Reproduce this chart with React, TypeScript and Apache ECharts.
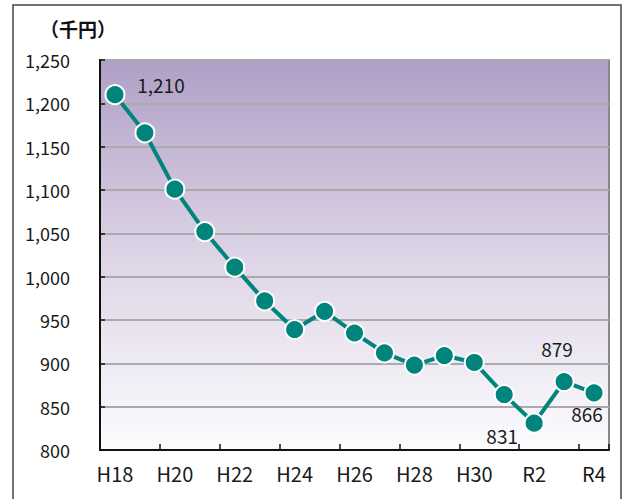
import React, { useEffect, useRef } from "react";
import * as echarts from "echarts";

const categories = ["H18","H19","H20","H21","H22","H23","H24","H25","H26","H27","H28","H29","H30","R1","R2","R3","R4"];
const values = [1210, 1166, 1101, 1052, 1011, 972, 939, 960, 935, 912, 898, 909, 901, 864, 831, 879, 866];
const labelledPoints: { index: number; text: string; offset: [number, number] }[] = [
  { index: 0, text: "1,210", offset: [46, -10] },
  { index: 14, text: "831", offset: [-32, 12] },
  { index: 15, text: "879", offset: [-7, -33] },
  { index: 16, text: "866", offset: [-7, 21] },
];
const unitTitle = "（千円）";

const FONT = "'Noto Sans CJK JP', 'Noto Sans', sans-serif";

export default function App() {
  const ref = useRef<HTMLDivElement>(null);
  useEffect(() => {
    document.body.style.margin = "0";
    if (!ref.current) return;
    const chart = echarts.init(ref.current, undefined, { renderer: "svg" });
    const data = values.map((v, i) => {
      const lp = labelledPoints.find((p) => p.index === i);
      if (!lp) return { value: v };
      return {
        value: v,
        label: {
          show: true,
          position: "inside",
          offset: lp.offset,
          formatter: lp.text,
          color: "#1a1a1a",
          fontSize: 19,
          fontFamily: FONT,
        },
      };
    });
    chart.setOption({
      animation: false,
      backgroundColor: "#ffffff",
      graphic: [
        {
          type: "rect",
          shape: { x: 13, y: 5, width: 608, height: 500 },
          style: { fill: "none", stroke: "#444", lineWidth: 1.5 },
          z: 0,
        },
        {
          type: "text",
          left: 40,
          top: 19,
          style: {
            text: unitTitle,
            fontSize: 19,
            fontWeight: "bold",
            fontFamily: FONT,
            fill: "#111",
          },
        },
      ],
      grid: {
        left: 100,
        right: 19,
        top: 60,
        bottom: 49,
        show: true,
        backgroundColor: new echarts.graphic.LinearGradient(0, 0, 0, 1, [
          { offset: 0, color: "#b09fc6" },
          { offset: 0.5, color: "#ddd4e6" },
          { offset: 1, color: "#fcfcfe" },
        ]),
        borderColor: "#888",
        borderWidth: 2,
      },
      xAxis: {
        type: "category",
        data: categories,
        boundaryGap: true,
        axisLine: { lineStyle: { color: "#111", width: 2 } },
        axisTick: { show: true, inside: true, length: 6, lineStyle: { color: "#111", width: 1.5 } },
        axisLabel: {
          interval: 1,
          color: "#1a1a1a",
          fontSize: 20,
          fontFamily: FONT,
          margin: 13,
        },
        splitLine: { show: false },
      },
      yAxis: {
        type: "value",
        min: 800,
        max: 1250,
        interval: 50,
        axisLine: { show: true, lineStyle: { color: "#111", width: 2 } },
        axisTick: { show: true, inside: true, length: 5, lineStyle: { color: "#111", width: 1.5 } },
        axisLabel: {
          color: "#1a1a1a",
          fontSize: 18,
          fontFamily: FONT,
          margin: 30,
          formatter: (v: number) => v.toLocaleString("en-US"),
        },
        splitLine: { show: true, lineStyle: { color: "#aaaaaa", width: 2 } },
      },
      series: [
        {
          type: "line",
          data,
          symbol: "circle",
          symbolSize: 19,
          lineStyle: { color: "#00847c", width: 4 },
          itemStyle: { color: "#00847c", borderColor: "#ffffff", borderWidth: 2 },
          label: { show: false },
          z: 5,
        },
      ],
    });
    return () => chart.dispose();
  }, []);
  return <div ref={ref} style={{ width: 628, height: 499 }} />;
}
